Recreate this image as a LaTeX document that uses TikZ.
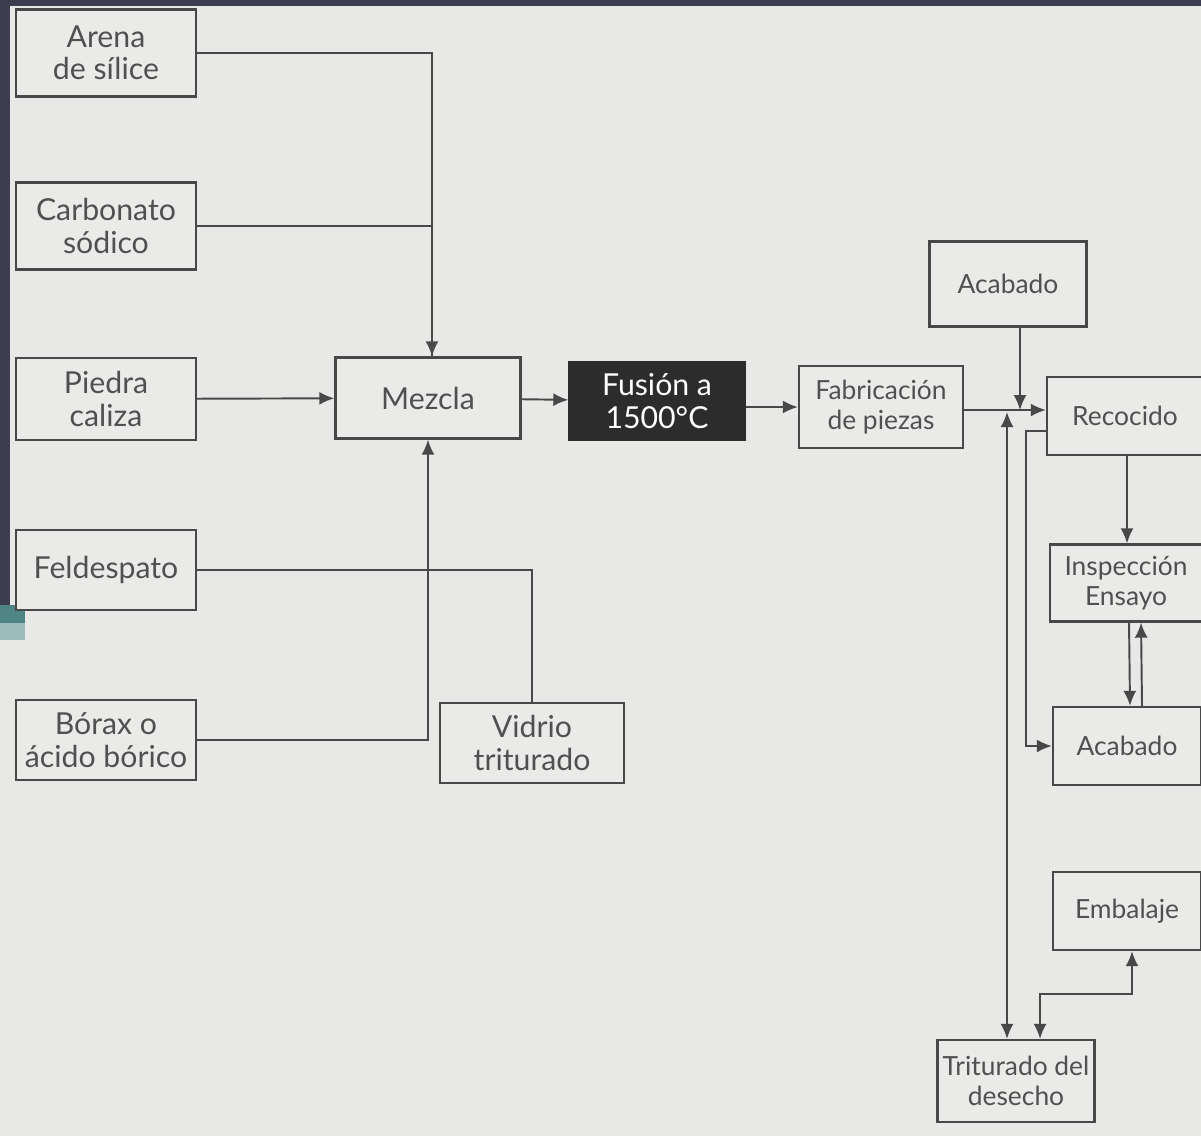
\documentclass[tikz,border=0pt]{standalone}
\usepackage{fontspec}
\setmainfont{Lato}
\usetikzlibrary{arrows.meta, positioning, calc}
\definecolor{BG}{RGB}{232,232,230}
\definecolor{BoxF}{RGB}{234,234,232}
\definecolor{DG}{RGB}{72,72,72}
\definecolor{TG}{RGB}{80,80,80}
\definecolor{FR}{RGB}{60,61,79}
\definecolor{TL}{RGB}{79,133,133}
\definecolor{TLL}{RGB}{157,187,187}
\definecolor{FUS}{RGB}{44,44,44}

\begin{document}
\begin{tikzpicture}[x=0.01cm, y=-0.01cm,
  box/.style={draw=DG, fill=BoxF, line width=0.65pt, align=center,
              text=TG, inner sep=0pt,
              font=\fontsize{8.6}{9.2}\selectfont},
  sbox/.style={box, font=\fontsize{7.5}{8.6}\selectfont},
  fbox/.style={box, fill=FUS, draw=FUS, text=white},
  conn/.style={draw=DG, line width=0.55pt},
  arr/.style={conn, -{Latex[length=1.5mm, width=1.3mm]}},
  darr/.style={conn, {Latex[length=1.5mm, width=1.3mm]}-{Latex[length=1.5mm, width=1.3mm]}}
]
% Page and photo edges
\clip (0,0) rectangle (1201,1136);
\fill[BG] (0,0) rectangle (1201,1136);
\fill[FR] (0,0) rectangle (1201,6);
\fill[FR] (0,0) rectangle (10,605);
\fill[TL] (0,605) rectangle (25,623);
\fill[TLL] (0,623) rectangle (25,640);

% Raw materials
\foreach \nm/\txt/\yy/\hh in {arena/{Arena\\de sílice}/53/0.87cm,
                              carbonato/{Carbonato\\sódico}/226/0.87cm,
                              piedra/{Piedra\\caliza}/399/0.82cm,
                              feldespato/{Feldespato}/570/0.80cm,
                              borax/{Bórax o\\ácido bórico}/740/0.80cm}{
  \node[box, minimum width=1.8cm, minimum height=\hh] (\nm) at (106,\yy) {\txt};
}

% Main line
\node[box, minimum width=1.85cm, minimum height=0.81cm] (mezcla) at (428,398) {Mezcla};
\node[fbox, minimum width=1.75cm, minimum height=0.78cm] (fusion) at (657,401) {Fusión a\\1500°C};
\node[sbox, minimum width=1.64cm, minimum height=0.82cm] (fabric) at (881,407) {Fabricación\\de piezas};
\node[box, minimum width=1.84cm, minimum height=0.80cm] (vidrio) at (532,743) {Vidrio\\triturado};

% Finishing column
\node[sbox, minimum width=1.57cm, minimum height=0.85cm] (acabadoA) at (1008,284) {Acabado};
\node[sbox, minimum width=1.56cm, minimum height=0.78cm] (recocido) at (1125,416) {Recocido};
\node[sbox, minimum width=1.52cm, minimum height=0.77cm] (inspeccion) at (1126,583) {Inspección\\Ensayo};
\node[sbox, minimum width=1.48cm, minimum height=0.78cm] (acabadoB) at (1127,746) {Acabado};
\node[sbox, minimum width=1.48cm, minimum height=0.78cm] (embalaje) at (1127,911) {Embalaje};
\node[sbox, minimum width=1.57cm, minimum height=0.82cm] (triturado) at (1016,1081) {Triturado del\\desecho};

% Inputs to Mezcla
\draw[arr] (arena.east) -| ([xshift=0.04cm]mezcla.north);
\draw[conn] (carbonato.east) -| ([xshift=0.04cm]mezcla.north);
\draw[arr] (piedra) -- (mezcla);
\draw[arr] (borax.east) -| (mezcla.south);
\draw[conn] (feldespato.east) -| (vidrio.north);

% Melting and forming
\draw[arr] (mezcla) -- (fusion);
\draw[arr] (fusion.east |- fabric.west) -- (fabric.west);
\draw[arr] ([yshift=-0.03cm]fabric.east) -- ([yshift=-0.03cm]fabric.east -| recocido.west);

% Junctions on the line to Recocido
\coordinate (jtop) at (1020,410);
\coordinate (jbot) at (1007,412);
\draw[arr] (acabadoA.south -| jtop) -- (jtop);
\draw[darr] (jbot) -- (jbot |- triturado.north);
\draw[arr] ([yshift=-0.15cm]recocido.west) -- ++(-0.2cm,0) |- (acabadoB.west);

% Recocido to Embalaje
\draw[arr] ([xshift=0.02cm]recocido.south) -- ([xshift=0.01cm]inspeccion.north);
\draw[arr] ([xshift=0.03cm]inspeccion.south) -- ([xshift=0.03cm]acabadoB.north);
\draw[arr] ([xshift=0.15cm]acabadoB.north) -- ([xshift=0.15cm]inspeccion.south);
\draw[darr] ([xshift=0.24cm]triturado.north) -- ++(0,0.45cm) -| ([xshift=0.05cm]embalaje.south);
\end{tikzpicture}
\end{document}
